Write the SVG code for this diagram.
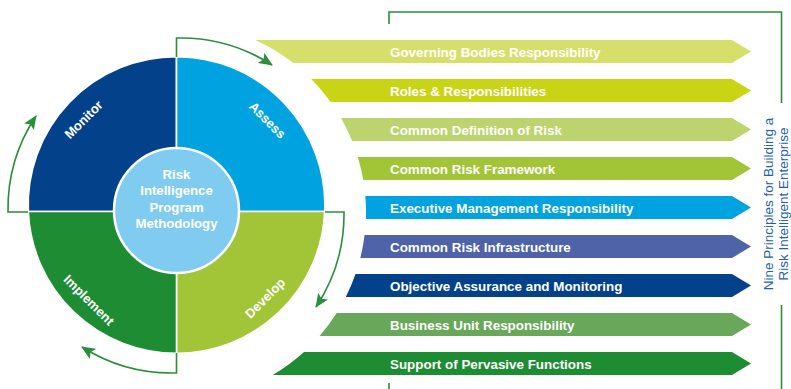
<svg xmlns="http://www.w3.org/2000/svg" width="791" height="389" viewBox="0 0 791 389">
<style>
.q{stroke:#fff;stroke-width:1.6}
.ql{font-family:"Liberation Sans",Arial,sans-serif;font-weight:bold;font-size:13px;fill:#fff;text-anchor:middle}
.ct{font-family:"Liberation Sans",Arial,sans-serif;font-weight:bold;font-size:13.2px;fill:#fff;text-anchor:middle}
.bt{font-family:"Liberation Sans",Arial,sans-serif;font-weight:bold;font-size:13.4px;fill:#fff}
.vt{font-family:"Liberation Sans",Arial,sans-serif;font-size:13.5px;fill:#2161AA;text-anchor:middle}
.arr{fill:none;stroke:#2A8E3B;stroke-width:1.6;marker-end:url(#ah)}
.br{fill:none;stroke:#2A8E3B;stroke-width:1.6}
</style>
<defs>
<marker id="ah" markerUnits="userSpaceOnUse" viewBox="0 0 14 12" refX="13" refY="6" markerWidth="14" markerHeight="12" orient="auto">
<path d="M0,0 L14,6 L0,12 L3,6 Z" fill="#2A8E3B"/>
</marker>
</defs>
<rect width="791" height="389" fill="#fff"/>

<g id="monitor">
<path class="q" fill="#03428A" d="M176.5,211.5 L28.3,211.5 A148.3,148.3 0 0,1 176.5,56.7 Z"/>
<text class="ql" transform="translate(83.5,119.5) rotate(-45)" y="4.6">Monitor</text>
</g>
<g id="assess">
<path class="q" fill="#00A3E0" d="M176.5,211.5 L176.5,56.7 A148.3,148.3 0 0,1 324.7,211.5 Z"/>
<text class="ql" transform="translate(267.5,120) rotate(45)" y="4.6">Assess</text>
</g>
<g id="develop">
<path class="q" fill="#A2C537" d="M176.5,211.5 L324.7,211.5 A148.3,148.3 0 0,1 176.5,353.3 Z"/>
<text class="ql" transform="translate(265,298) rotate(-45)" y="4.6">Develop</text>
</g>
<g id="implement">
<path class="q" fill="#1E8C33" d="M176.5,211.5 L176.5,353.3 A148.3,148.3 0 0,1 28.3,211.5 Z"/>
<text class="ql" transform="translate(89,300) rotate(45)" y="4.6">Implement</text>
</g>
<g id="center">
<circle cx="176.5" cy="210.5" r="62.5" fill="#7FCCF0" stroke="#fff" stroke-width="2.5"/>
<text class="ct" x="176.5" y="178.5">Risk</text>
<text class="ct" x="176.5" y="195">Intelligence</text>
<text class="ct" x="176.5" y="211.5">Program</text>
<text class="ct" x="176.5" y="228">Methodology</text>
</g>

<g id="connectors">
<path class="arr" d="M176.5,57 V38 A168,168 0 0,1 272,65"/>
<path class="arr" d="M325,212 H344 A168,168 0 0,1 316,307"/>
<path class="arr" d="M176.5,353 V373 A168,168 0 0,1 82,347"/>
<path class="arr" d="M28,212 H8 A168,168 0 0,1 36,116"/>
<path class="br" d="M389,24 V12 H781.5 V103"/>
<path class="br" d="M781.5,305 V389"/>
<path class="br" d="M389,383 V389"/>
</g>

<g id="p1">
<path fill="#D7DF6B" d="M255.3,40 H732 L751,51.5 L732,63 H293.3 A189,189 0 0,0 255.3,40 Z"/>
<text class="bt" x="390" y="57">Governing Bodies Responsibility</text>
</g>
<g id="p2">
<path fill="#C9D414" d="M311.3,79 H732 L751,90.5 L732,102 H330.7 A189,189 0 0,0 311.3,79 Z"/>
<text class="bt" x="390" y="96">Roles &amp; Responsibilities</text>
</g>
<g id="p3">
<path fill="#BDD46E" d="M341,118 H732 L751,129.5 L732,141 H352.2 A189,189 0 0,0 341,118 Z"/>
<text class="bt" x="390" y="135">Common Definition of Risk</text>
</g>
<g id="p4">
<path fill="#A2C537" d="M357.8,157 H732 L751,168.5 L732,180 H363.3 A189,189 0 0,0 357.8,157 Z"/>
<text class="bt" x="390" y="174">Common Risk Framework</text>
</g>
<g id="p5">
<path fill="#00A3E0" d="M365.3,196 H732 L751,207.5 L732,219 H365.9 A189,189 0 0,0 365.3,196 Z"/>
<text class="bt" x="390" y="213">Executive Management Responsibility</text>
</g>
<g id="p6">
<path fill="#4E63A8" d="M364.6,235 H732 L751,246.5 L732,258 H360.3 A189,189 0 0,0 364.6,235 Z"/>
<text class="bt" x="390" y="252">Common Risk Infrastructure</text>
</g>
<g id="p7">
<path fill="#03428A" d="M355.5,274 H732 L751,285.5 L732,297 H345.8 A189,189 0 0,0 355.5,274 Z"/>
<text class="bt" x="390" y="291">Objective Assurance and Monitoring</text>
</g>
<g id="p8">
<path fill="#69A75A" d="M336.7,313 H732 L751,324.5 L732,336 H319.6 A189,189 0 0,0 336.7,313 Z"/>
<text class="bt" x="390" y="330">Business Unit Responsibility</text>
</g>
<g id="p9">
<path fill="#1E8C33" d="M304,352 H732 L751,363.5 L732,375 H272.7 A189,189 0 0,0 304,352 Z"/>
<text class="bt" x="390" y="369">Support of Pervasive Functions</text>
</g>

<g id="title">
<text class="vt" transform="translate(772.7,204) rotate(-90)">Nine Principles for Building a</text>
<text class="vt" transform="translate(787.7,204) rotate(-90)">Risk Intelligent Enterprise</text>
</g>
</svg>
